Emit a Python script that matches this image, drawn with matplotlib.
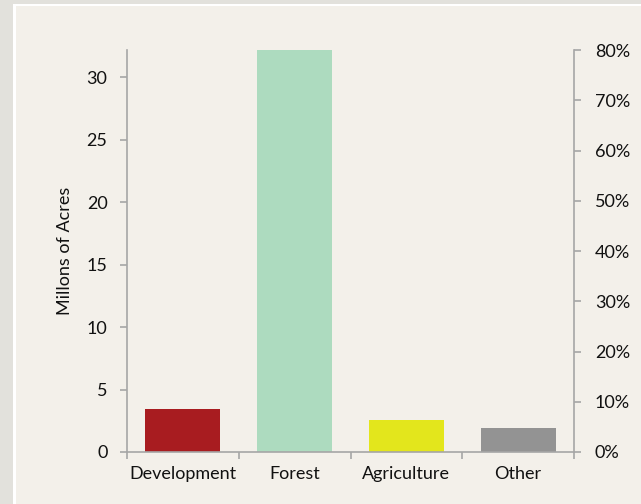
import matplotlib
matplotlib.use("Agg")
import matplotlib.pyplot as plt
from matplotlib.patches import Rectangle

categories = ["Development", "Forest", "Agriculture", "Other"]
acres_millions = [3.45, 32.2, 2.57, 1.93]
bar_colors = ["#a81c20", "#addbbf", "#e3e61c", "#939393"]
left_ticks = [0, 5, 10, 15, 20, 25, 30]
right_ticks = [0, 10, 20, 30, 40, 50, 60, 70, 80]
right_labels = [f"{t}%" for t in right_ticks]

plt.rcParams['font.family'] = ['Lato', 'DejaVu Sans']
FS = 13
AX = "#a6a6a6"
BG = "#f3f0ea"
TXT = "#111111"

fig = plt.figure(figsize=(6.41, 5.04), dpi=100)
fig.patch.set_facecolor("#e2e1dc")
W, H = 641, 504
fig.add_artist(Rectangle((13 / W, 0), 1, (504 - 4) / H, transform=fig.transFigure,
                         facecolor="white", edgecolor="none", zorder=0))
fig.add_artist(Rectangle((16 / W, 0), 1, (504 - 6) / H, transform=fig.transFigure,
                         facecolor=BG, edgecolor="none", zorder=0))

ax = fig.add_axes([127 / W, (504 - 452) / H, (574 - 127) / W, (452 - 50) / H])
ax.set_facecolor("none")
x = [i + 0.5 for i in range(len(categories))]
ax.bar(x, acres_millions, width=0.67, color=bar_colors, zorder=2)
ax.set_xlim(0, 4)
ax.set_ylim(0, 32.2)

ax.set_xticks([0, 1, 2, 3, 4])
ax.set_xticklabels([])
ax.set_xticks(x, minor=True)
ax.set_xticklabels(categories, minor=True, fontsize=FS, color=TXT)
ax.tick_params(axis="x", which="major", length=5, color=AX, width=1.2)
ax.tick_params(axis="x", which="minor", length=0, pad=10)

ax.set_yticks(left_ticks)
ax.set_yticklabels([str(t) for t in left_ticks], fontsize=FS, color=TXT)
ax.tick_params(axis="y", length=5, color=AX, width=1.2, pad=9)
ax.set_ylabel("Millons of Acres", fontsize=FS, color=TXT, labelpad=10)

for s in ["top", "right"]:
    ax.spines[s].set_visible(False)
for s in ["left", "bottom"]:
    ax.spines[s].set_color(AX)
    ax.spines[s].set_linewidth(1.2)

ax2 = ax.twinx()
ax2.set_ylim(0, 80)
ax2.set_yticks(right_ticks)
ax2.set_yticklabels(right_labels, fontsize=FS, color=TXT)
ax2.tick_params(axis="y", length=5, color=AX, width=1.2, pad=10)
for s in ["top", "left", "bottom"]:
    ax2.spines[s].set_visible(False)
ax2.spines["right"].set_color(AX)
ax2.spines["right"].set_linewidth(1.2)

fig.savefig("out.png", dpi=100, facecolor=fig.get_facecolor())
